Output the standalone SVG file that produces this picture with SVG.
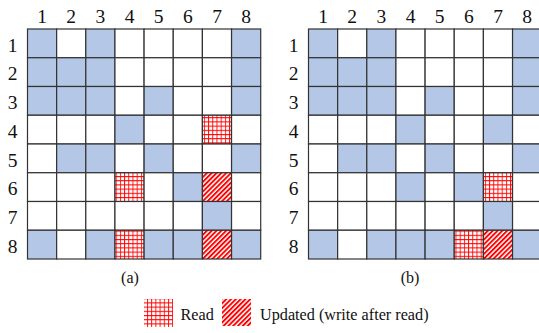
<svg xmlns="http://www.w3.org/2000/svg" width="539" height="333" viewBox="0 0 539 333">
<defs>
<pattern id="pRead" patternUnits="userSpaceOnUse" x="0" y="0" width="4.2" height="4.2">
<rect width="4.2" height="4.2" fill="#fff"/>
<path d="M0 0.5H4.2M0.5 0V4.2" stroke="#f00" stroke-width="0.9" fill="none"/>
</pattern>
<pattern id="pUpd" patternUnits="userSpaceOnUse" width="3.4" height="3.4" patternTransform="rotate(45)">
<rect width="3.4" height="3.4" fill="#fff"/>
<rect width="1.9" height="3.4" fill="#f00"/>
</pattern>
<style>
.c{stroke:#333;stroke-width:1.2;fill:#fff}
.b{fill:#B4C7E7}
.r{fill:url(#pRead)}
.u{fill:url(#pUpd)}
.lab{font-family:"Liberation Serif","Times New Roman",serif;font-size:19.5px;fill:#111;text-anchor:middle}
.cap{font-family:"Liberation Serif","Times New Roman",serif;font-size:16px;fill:#111;text-anchor:middle}
.leg{font-family:"Liberation Serif","Times New Roman",serif;font-size:16.2px;fill:#111}
</style>
</defs>
<rect width="539" height="333" fill="#fff"/>

<g id="gridA">
<g class="lab">
<text x="42.1" y="23.3">1</text><text x="71.2" y="23.3">2</text><text x="100.4" y="23.3">3</text><text x="129.5" y="23.3">4</text><text x="158.7" y="23.3">5</text><text x="187.8" y="23.3">6</text><text x="217" y="23.3">7</text><text x="246.1" y="23.3">8</text>
<text x="12.5" y="51.5">1</text><text x="12.5" y="80.2">2</text><text x="12.5" y="109">3</text><text x="12.5" y="137.7">4</text><text x="12.5" y="166.5">5</text><text x="12.5" y="195.2">6</text><text x="12.5" y="224">7</text><text x="12.5" y="252.7">8</text>
</g>
<g transform="translate(27.5,29)">
<!-- row 1 -->
<rect class="c b" x="0" y="0" width="29.15" height="28.75"/><rect class="c" x="29.15" y="0" width="29.15" height="28.75"/><rect class="c b" x="58.3" y="0" width="29.15" height="28.75"/><rect class="c" x="87.45" y="0" width="29.15" height="28.75"/><rect class="c" x="116.6" y="0" width="29.15" height="28.75"/><rect class="c" x="145.75" y="0" width="29.15" height="28.75"/><rect class="c" x="174.9" y="0" width="29.15" height="28.75"/><rect class="c b" x="204.05" y="0" width="29.15" height="28.75"/>
<!-- row 2 -->
<rect class="c b" x="0" y="28.75" width="29.15" height="28.75"/><rect class="c b" x="29.15" y="28.75" width="29.15" height="28.75"/><rect class="c b" x="58.3" y="28.75" width="29.15" height="28.75"/><rect class="c" x="87.45" y="28.75" width="29.15" height="28.75"/><rect class="c" x="116.6" y="28.75" width="29.15" height="28.75"/><rect class="c" x="145.75" y="28.75" width="29.15" height="28.75"/><rect class="c" x="174.9" y="28.75" width="29.15" height="28.75"/><rect class="c b" x="204.05" y="28.75" width="29.15" height="28.75"/>
<!-- row 3 -->
<rect class="c b" x="0" y="57.5" width="29.15" height="28.75"/><rect class="c b" x="29.15" y="57.5" width="29.15" height="28.75"/><rect class="c b" x="58.3" y="57.5" width="29.15" height="28.75"/><rect class="c" x="87.45" y="57.5" width="29.15" height="28.75"/><rect class="c b" x="116.6" y="57.5" width="29.15" height="28.75"/><rect class="c" x="145.75" y="57.5" width="29.15" height="28.75"/><rect class="c" x="174.9" y="57.5" width="29.15" height="28.75"/><rect class="c b" x="204.05" y="57.5" width="29.15" height="28.75"/>
<!-- row 4 -->
<rect class="c" x="0" y="86.25" width="29.15" height="28.75"/><rect class="c" x="29.15" y="86.25" width="29.15" height="28.75"/><rect class="c" x="58.3" y="86.25" width="29.15" height="28.75"/><rect class="c b" x="87.45" y="86.25" width="29.15" height="28.75"/><rect class="c" x="116.6" y="86.25" width="29.15" height="28.75"/><rect class="c" x="145.75" y="86.25" width="29.15" height="28.75"/><rect class="c r" x="174.9" y="86.25" width="29.15" height="28.75"/><rect class="c" x="204.05" y="86.25" width="29.15" height="28.75"/>
<!-- row 5 -->
<rect class="c" x="0" y="115" width="29.15" height="28.75"/><rect class="c b" x="29.15" y="115" width="29.15" height="28.75"/><rect class="c b" x="58.3" y="115" width="29.15" height="28.75"/><rect class="c" x="87.45" y="115" width="29.15" height="28.75"/><rect class="c b" x="116.6" y="115" width="29.15" height="28.75"/><rect class="c" x="145.75" y="115" width="29.15" height="28.75"/><rect class="c" x="174.9" y="115" width="29.15" height="28.75"/><rect class="c b" x="204.05" y="115" width="29.15" height="28.75"/>
<!-- row 6 -->
<rect class="c" x="0" y="143.75" width="29.15" height="28.75"/><rect class="c" x="29.15" y="143.75" width="29.15" height="28.75"/><rect class="c" x="58.3" y="143.75" width="29.15" height="28.75"/><rect class="c r" x="87.45" y="143.75" width="29.15" height="28.75"/><rect class="c" x="116.6" y="143.75" width="29.15" height="28.75"/><rect class="c b" x="145.75" y="143.75" width="29.15" height="28.75"/><rect class="c u" x="174.9" y="143.75" width="29.15" height="28.75"/><rect class="c" x="204.05" y="143.75" width="29.15" height="28.75"/>
<!-- row 7 -->
<rect class="c" x="0" y="172.5" width="29.15" height="28.75"/><rect class="c" x="29.15" y="172.5" width="29.15" height="28.75"/><rect class="c" x="58.3" y="172.5" width="29.15" height="28.75"/><rect class="c" x="87.45" y="172.5" width="29.15" height="28.75"/><rect class="c" x="116.6" y="172.5" width="29.15" height="28.75"/><rect class="c" x="145.75" y="172.5" width="29.15" height="28.75"/><rect class="c b" x="174.9" y="172.5" width="29.15" height="28.75"/><rect class="c" x="204.05" y="172.5" width="29.15" height="28.75"/>
<!-- row 8 -->
<rect class="c b" x="0" y="201.25" width="29.15" height="28.75"/><rect class="c" x="29.15" y="201.25" width="29.15" height="28.75"/><rect class="c b" x="58.3" y="201.25" width="29.15" height="28.75"/><rect class="c r" x="87.45" y="201.25" width="29.15" height="28.75"/><rect class="c b" x="116.6" y="201.25" width="29.15" height="28.75"/><rect class="c b" x="145.75" y="201.25" width="29.15" height="28.75"/><rect class="c u" x="174.9" y="201.25" width="29.15" height="28.75"/><rect class="c b" x="204.05" y="201.25" width="29.15" height="28.75"/>
</g>
<text class="cap" x="130" y="283">(a)</text>
</g>

<g id="gridB">
<g class="lab">
<text x="323.1" y="23.3">1</text><text x="352.2" y="23.3">2</text><text x="381.4" y="23.3">3</text><text x="410.5" y="23.3">4</text><text x="439.7" y="23.3">5</text><text x="468.8" y="23.3">6</text><text x="498" y="23.3">7</text><text x="527.1" y="23.3">8</text>
<text x="293.5" y="51.5">1</text><text x="293.5" y="80.2">2</text><text x="293.5" y="109">3</text><text x="293.5" y="137.7">4</text><text x="293.5" y="166.5">5</text><text x="293.5" y="195.2">6</text><text x="293.5" y="224">7</text><text x="293.5" y="252.7">8</text>
</g>
<g transform="translate(308.5,29)">
<!-- row 1 -->
<rect class="c b" x="0" y="0" width="29.15" height="28.75"/><rect class="c" x="29.15" y="0" width="29.15" height="28.75"/><rect class="c b" x="58.3" y="0" width="29.15" height="28.75"/><rect class="c" x="87.45" y="0" width="29.15" height="28.75"/><rect class="c" x="116.6" y="0" width="29.15" height="28.75"/><rect class="c" x="145.75" y="0" width="29.15" height="28.75"/><rect class="c" x="174.9" y="0" width="29.15" height="28.75"/><rect class="c b" x="204.05" y="0" width="29.15" height="28.75"/>
<!-- row 2 -->
<rect class="c b" x="0" y="28.75" width="29.15" height="28.75"/><rect class="c b" x="29.15" y="28.75" width="29.15" height="28.75"/><rect class="c b" x="58.3" y="28.75" width="29.15" height="28.75"/><rect class="c" x="87.45" y="28.75" width="29.15" height="28.75"/><rect class="c" x="116.6" y="28.75" width="29.15" height="28.75"/><rect class="c" x="145.75" y="28.75" width="29.15" height="28.75"/><rect class="c" x="174.9" y="28.75" width="29.15" height="28.75"/><rect class="c b" x="204.05" y="28.75" width="29.15" height="28.75"/>
<!-- row 3 -->
<rect class="c b" x="0" y="57.5" width="29.15" height="28.75"/><rect class="c b" x="29.15" y="57.5" width="29.15" height="28.75"/><rect class="c b" x="58.3" y="57.5" width="29.15" height="28.75"/><rect class="c" x="87.45" y="57.5" width="29.15" height="28.75"/><rect class="c b" x="116.6" y="57.5" width="29.15" height="28.75"/><rect class="c" x="145.75" y="57.5" width="29.15" height="28.75"/><rect class="c" x="174.9" y="57.5" width="29.15" height="28.75"/><rect class="c b" x="204.05" y="57.5" width="29.15" height="28.75"/>
<!-- row 4 -->
<rect class="c" x="0" y="86.25" width="29.15" height="28.75"/><rect class="c" x="29.15" y="86.25" width="29.15" height="28.75"/><rect class="c" x="58.3" y="86.25" width="29.15" height="28.75"/><rect class="c b" x="87.45" y="86.25" width="29.15" height="28.75"/><rect class="c" x="116.6" y="86.25" width="29.15" height="28.75"/><rect class="c" x="145.75" y="86.25" width="29.15" height="28.75"/><rect class="c b" x="174.9" y="86.25" width="29.15" height="28.75"/><rect class="c" x="204.05" y="86.25" width="29.15" height="28.75"/>
<!-- row 5 -->
<rect class="c" x="0" y="115" width="29.15" height="28.75"/><rect class="c b" x="29.15" y="115" width="29.15" height="28.75"/><rect class="c b" x="58.3" y="115" width="29.15" height="28.75"/><rect class="c" x="87.45" y="115" width="29.15" height="28.75"/><rect class="c b" x="116.6" y="115" width="29.15" height="28.75"/><rect class="c" x="145.75" y="115" width="29.15" height="28.75"/><rect class="c" x="174.9" y="115" width="29.15" height="28.75"/><rect class="c b" x="204.05" y="115" width="29.15" height="28.75"/>
<!-- row 6 -->
<rect class="c" x="0" y="143.75" width="29.15" height="28.75"/><rect class="c" x="29.15" y="143.75" width="29.15" height="28.75"/><rect class="c" x="58.3" y="143.75" width="29.15" height="28.75"/><rect class="c b" x="87.45" y="143.75" width="29.15" height="28.75"/><rect class="c" x="116.6" y="143.75" width="29.15" height="28.75"/><rect class="c b" x="145.75" y="143.75" width="29.15" height="28.75"/><rect class="c r" x="174.9" y="143.75" width="29.15" height="28.75"/><rect class="c" x="204.05" y="143.75" width="29.15" height="28.75"/>
<!-- row 7 -->
<rect class="c" x="0" y="172.5" width="29.15" height="28.75"/><rect class="c" x="29.15" y="172.5" width="29.15" height="28.75"/><rect class="c" x="58.3" y="172.5" width="29.15" height="28.75"/><rect class="c" x="87.45" y="172.5" width="29.15" height="28.75"/><rect class="c" x="116.6" y="172.5" width="29.15" height="28.75"/><rect class="c" x="145.75" y="172.5" width="29.15" height="28.75"/><rect class="c b" x="174.9" y="172.5" width="29.15" height="28.75"/><rect class="c" x="204.05" y="172.5" width="29.15" height="28.75"/>
<!-- row 8 -->
<rect class="c b" x="0" y="201.25" width="29.15" height="28.75"/><rect class="c" x="29.15" y="201.25" width="29.15" height="28.75"/><rect class="c b" x="58.3" y="201.25" width="29.15" height="28.75"/><rect class="c b" x="87.45" y="201.25" width="29.15" height="28.75"/><rect class="c b" x="116.6" y="201.25" width="29.15" height="28.75"/><rect class="c r" x="145.75" y="201.25" width="29.15" height="28.75"/><rect class="c u" x="174.9" y="201.25" width="29.15" height="28.75"/><rect class="c b" x="204.05" y="201.25" width="29.15" height="28.75"/>
</g>
<text class="cap" x="410" y="283">(b)</text>
</g>

<g id="legend">
<rect class="r" x="144" y="299" width="29" height="28"/>
<text class="leg" x="180.5" y="319.5">Read</text>
<rect class="u" x="222" y="299" width="29" height="27"/>
<text class="leg" x="260" y="319.5">Updated (write after read)</text>
</g>
</svg>
